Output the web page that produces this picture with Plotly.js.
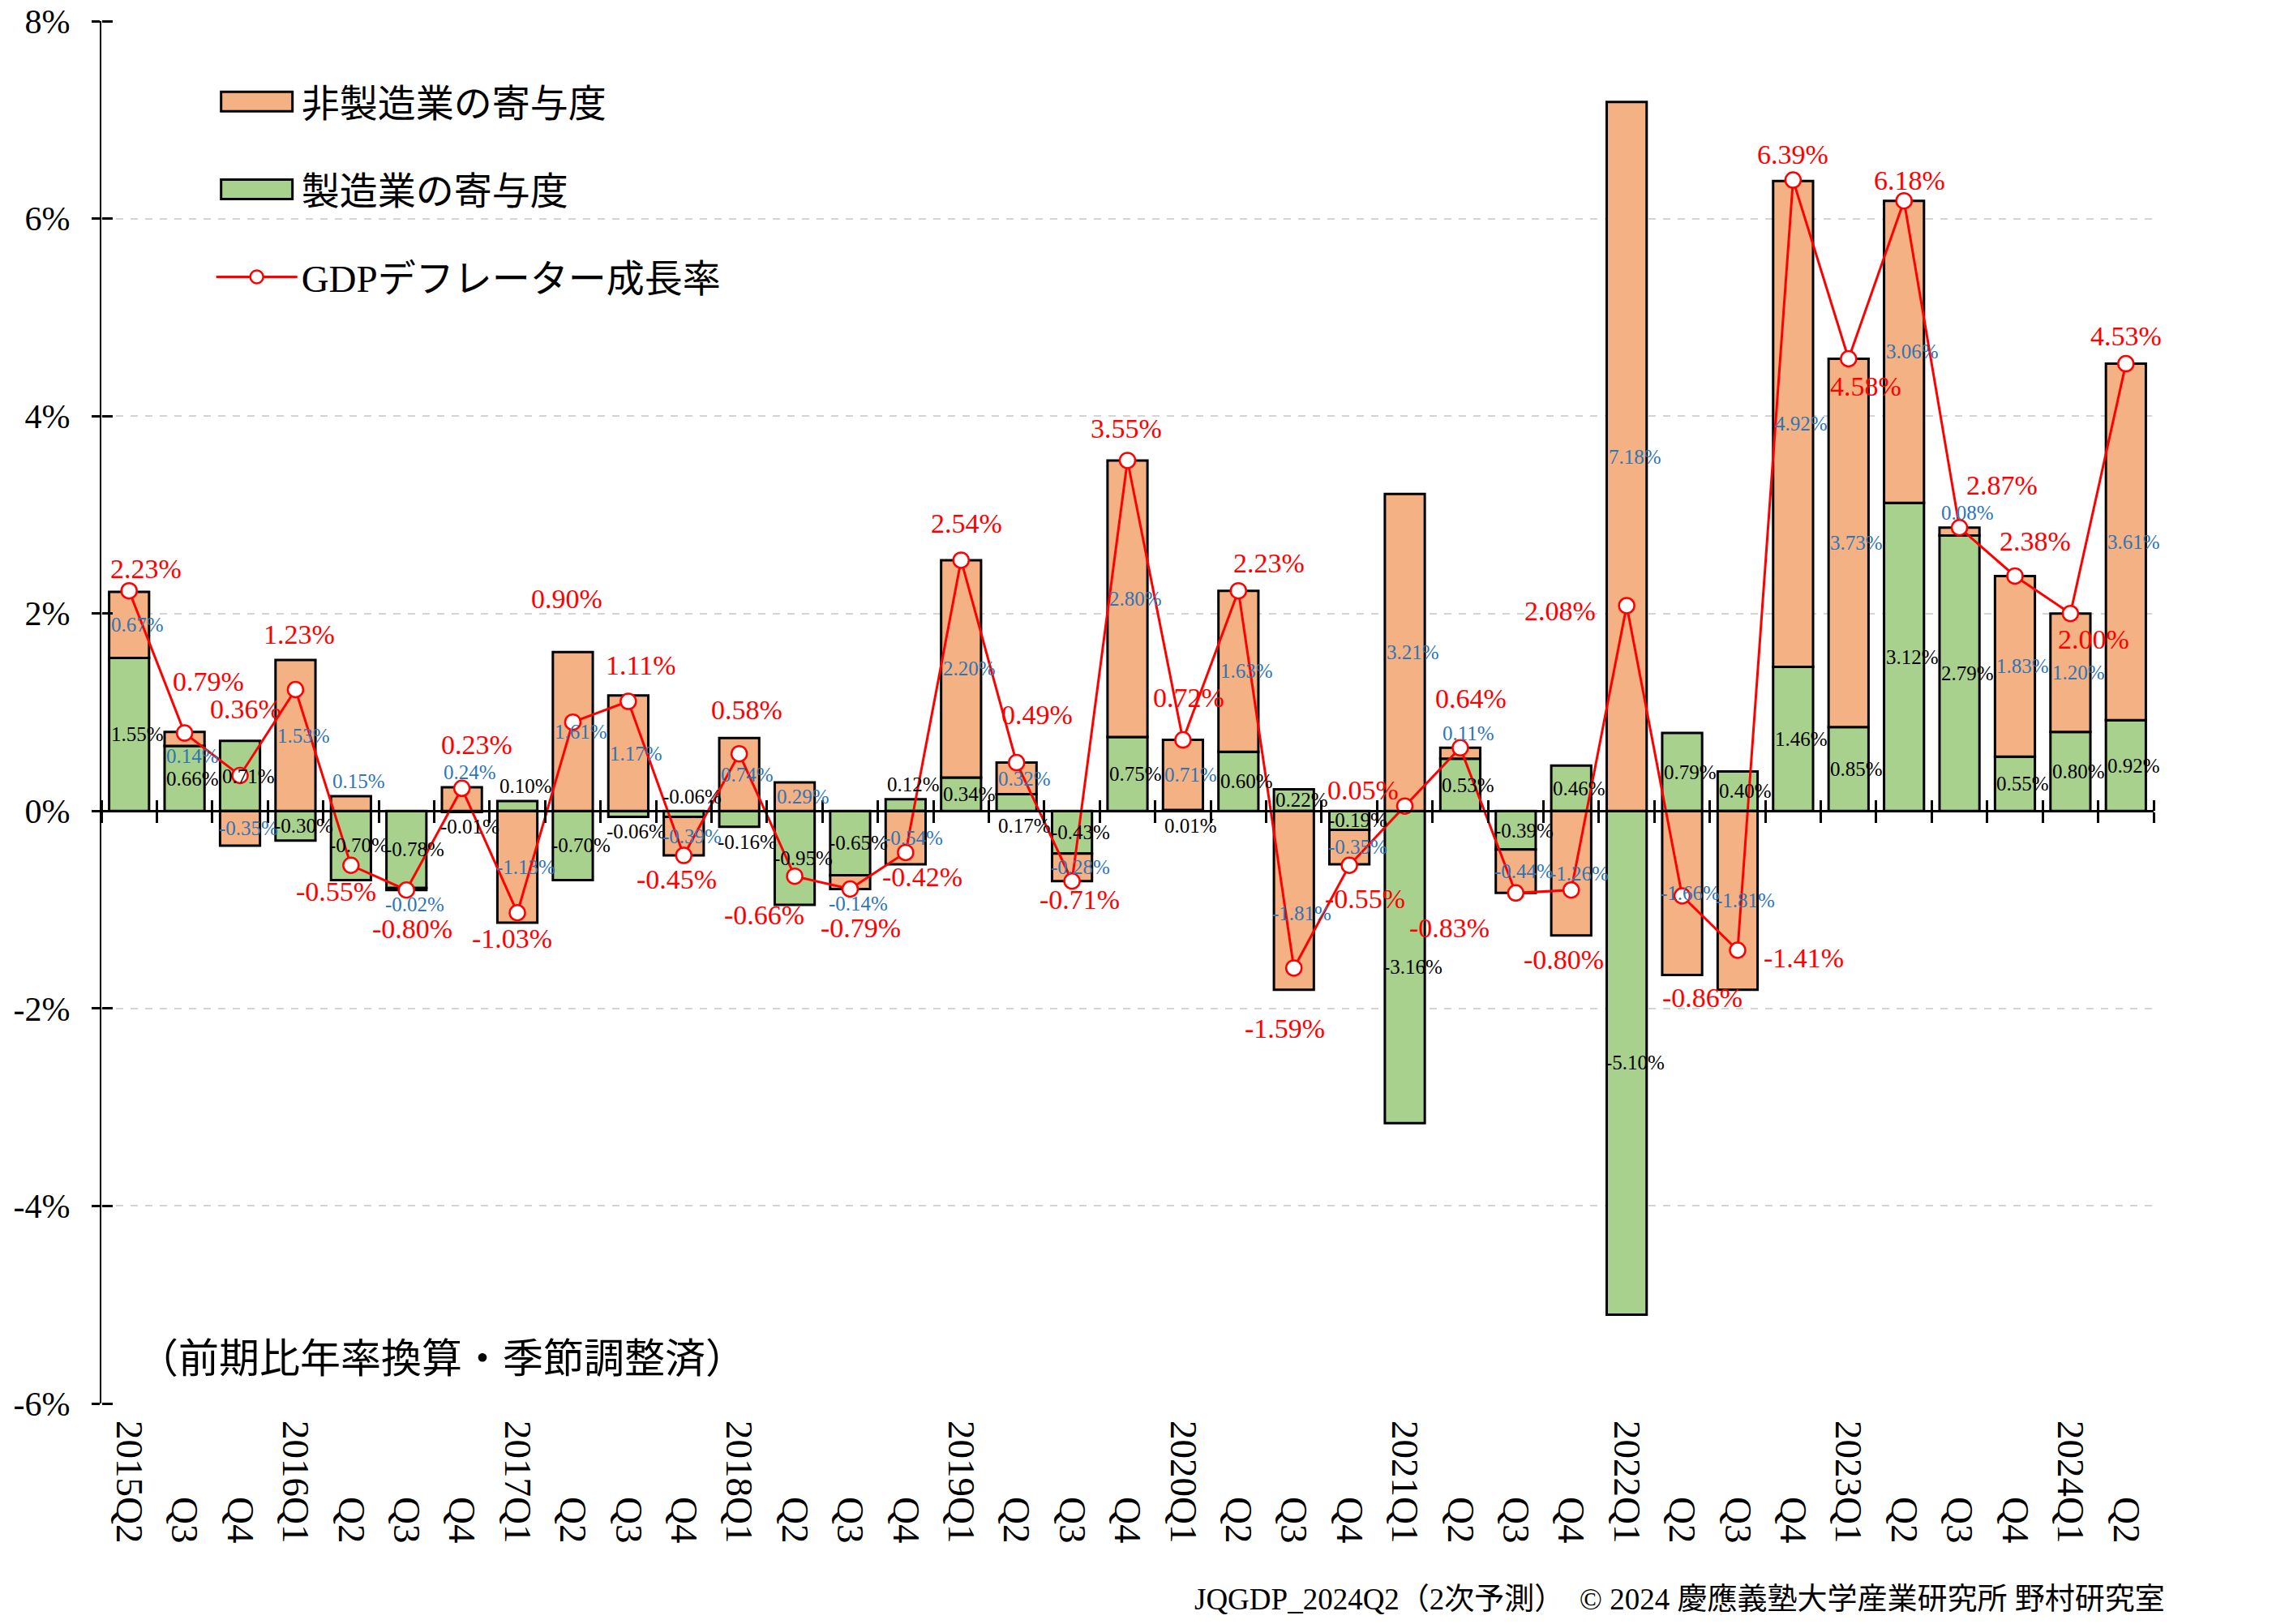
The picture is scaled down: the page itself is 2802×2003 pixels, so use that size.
<!DOCTYPE html>
<html><head><meta charset="utf-8">
<script src="https://cdn.plot.ly/plotly-3.0.1.min.js"></script>
<style>html,body{margin:0;padding:0;background:#fff}#chart{width:2802px;height:2003px}</style>
</head><body><div id="chart"></div>
<script>
// ---- data ----
const periods = ["2015Q2","2015Q3","2015Q4","2016Q1","2016Q2","2016Q3","2016Q4","2017Q1","2017Q2","2017Q3","2017Q4",
  "2018Q1","2018Q2","2018Q3","2018Q4","2019Q1","2019Q2","2019Q3","2019Q4","2020Q1","2020Q2","2020Q3","2020Q4",
  "2021Q1","2021Q2","2021Q3","2021Q4","2022Q1","2022Q2","2022Q3","2022Q4","2023Q1","2023Q2","2023Q3","2023Q4",
  "2024Q1","2024Q2"];
const tickLabels = ["2015Q2","Q3","Q4","2016Q1","Q2","Q3","Q4","2017Q1","Q2","Q3","Q4",
  "2018Q1","Q2","Q3","Q4","2019Q1","Q2","Q3","Q4","2020Q1","Q2","Q3","Q4",
  "2021Q1","Q2","Q3","Q4","2022Q1","Q2","Q3","Q4","2023Q1","Q2","Q3","Q4","2024Q1","Q2"];
const manufacturing = [1.55,0.66,0.71,-0.30,-0.70,-0.78,-0.01,0.10,-0.70,-0.06,-0.06,
  -0.16,-0.95,-0.65,0.12,0.34,0.17,-0.43,0.75,0.01,0.60,0.22,-0.19,
  -3.16,0.53,-0.39,0.46,-5.10,0.79,0.40,1.46,0.85,3.12,2.79,0.55,0.80,0.92];
const nonManufacturing = [0.67,0.14,-0.35,1.53,0.15,-0.02,0.24,-1.13,1.61,1.17,-0.39,
  0.74,0.29,-0.14,-0.54,2.20,0.32,-0.28,2.80,0.71,1.63,-1.81,-0.35,
  3.21,0.11,-0.44,-1.26,7.18,-1.66,-1.81,4.92,3.73,3.06,0.08,1.83,1.20,3.61];
const gdpDeflator = [2.23,0.79,0.36,1.23,-0.55,-0.80,0.23,-1.03,0.90,1.11,-0.45,
  0.58,-0.66,-0.79,-0.42,2.54,0.49,-0.71,3.55,0.72,2.23,-1.59,-0.55,
  0.05,0.64,-0.83,-0.80,2.08,-0.86,-1.41,6.39,4.58,6.18,2.87,2.38,2.00,4.53];
const yTickVals = [-6,-4,-2,0,2,4,6,8];
const yTickText = ["-6%","-4%","-2%","0%","2%","4%","6%","8%"];
const seriesNames = ["製造業の寄与度","非製造業の寄与度","GDPデフレーター成長率"];

// ---- label placement (pixel offsets, kept apart from the data) ----
const gdpLabelShift = [[21,27],[29,64],[7,82],[5,68],[-18,-32],[7,-48],[18,54],[-7,-32],[-7,152],[16,45],[-9,-29],
  [9,54],[-38,-48],[13,-48],[21,-30],[7,45],[25,59],[9,-23],[-2,39],[7,52],[38,34],[-11,-75],[19,-41],
  [-52,20],[13,61],[-82,-43],[-9,-86],[-82,-7],[25,-125],[82,-9],[0,32],[21,-34],[7,25],[52,52],[25,43],[29,-32],[0,34]];
const nonLabelNudge = {"2015Q3": -48, "2020Q3": -16};

const FONT = "'Liberation Serif', 'Noto Sans CJK JP', serif";
const CJK = "'Noto Sans CJK JP', 'Liberation Serif', sans-serif";
const yMin = -6, yMax = 8;
const sgn = v => (v > 0 ? 1 : v < 0 ? -1 : 0);
const fmt = v => v.toFixed(2) + '%';

const data = [
  {type:'bar', name:seriesNames[0], x:periods, y:manufacturing, legendrank:2, legendgroup:'m',
   marker:{color:'#A9D18E', line:{color:'#000', width:3}}, hoverinfo:'skip'},
  {type:'bar', name:seriesNames[1], x:periods, y:nonManufacturing, legendrank:1, legendgroup:'n',
   marker:{color:'#F4B183', line:{color:'#000', width:3}}, hoverinfo:'skip'},
  {type:'scatter', mode:'lines+markers', name:seriesNames[2], x:periods, y:gdpDeflator, legendrank:3, legendgroup:'g',
   line:{color:'#FF0000', width:3}, marker:{symbol:'circle', size:19, color:'#FFFFFF', line:{color:'#FF0000', width:2.5}},
   cliponaxis:false, hoverinfo:'skip'},
  // carriers for the crossing tick-mark axes
  {type:'scatter', x:[], y:[], xaxis:'x2', yaxis:'y', showlegend:false, hoverinfo:'skip'},
  {type:'scatter', x:[], y:[], xaxis:'x3', yaxis:'y', showlegend:false, hoverinfo:'skip'},
  {type:'scatter', x:[], y:[], xaxis:'x', yaxis:'y2', showlegend:false, hoverinfo:'skip'}
];

const annotations = [];
periods.forEach((p, i) => {
  const m = manufacturing[i], n = nonManufacturing[i];
  let ym;
  if (Math.abs(m) < 0.18) ym = (sgn(n) === sgn(m)) ? -sgn(m) * 0.15 : m + sgn(m) * 0.15;
  else ym = m / 2;
  annotations.push({x:p, y:ym, xref:'x', yref:'y', text:fmt(m), showarrow:false, xshift:10,
    font:{family:FONT, size:25, color:'#000000'}});
  const base = (sgn(n) === sgn(m)) ? m : 0;
  let yn;
  if (Math.abs(n) < 0.25) yn = base + n + sgn(n) * 0.15;
  else yn = base + n / 2;
  annotations.push({x:p, y:yn, xref:'x', yref:'y', text:fmt(n), showarrow:false, xshift:10,
    yshift:(nonLabelNudge[p] || 0), font:{family:FONT, size:25, color:'#2E75B6'}});
  annotations.push({x:p, y:gdpDeflator[i], xref:'x', yref:'y', text:fmt(gdpDeflator[i]), showarrow:false,
    xshift:gdpLabelShift[i][0], yshift:gdpLabelShift[i][1],
    font:{family:FONT, size:34, color:'#FF0000'}});
});
annotations.push({xref:'paper', yref:'paper', x:0.017, y:0.0352, xanchor:'left', yanchor:'middle', showarrow:false,
  text:'（前期比年率換算・季節調整済）', font:{family:CJK, size:50, color:'#000'}});
annotations.push({xref:'paper', yref:'paper', x:1.0063, y:-0.1419, xanchor:'right', yanchor:'middle', showarrow:false,
  text:'JQGDP_2024Q2（2次予測）　© 2024 慶應義塾大学産業研究所 野村研究室', font:{family:FONT, size:37, color:'#000'}});

const boundaries = periods.map((_, i) => i - 0.5).concat([periods.length - 0.5]);
const xRange = [-0.5, periods.length - 0.5];
const zeroPos = (0 - yMin) / (yMax - yMin);
const padLabel = s => (s.length < 6 ? '\u00A0'.repeat(8) + s : s);

const tickAxis = (side) => ({overlaying:'x', anchor:'free', position:zeroPos, side:side, type:'linear',
  range:xRange, tickmode:'array', tickvals:boundaries, ticks:'outside', ticklen:13, tickwidth:3, tickcolor:'#000',
  showticklabels:false, showgrid:false, zeroline:false, showline:side === 'bottom', linecolor:'#000', linewidth:3,
  fixedrange:true});

const layout = {
  width:2802, height:2003,
  margin:{l:125, r:146, t:26, b:272, pad:0},
  paper_bgcolor:'#FFFFFF', plot_bgcolor:'#FFFFFF',
  barmode:'relative', bargap:0.28,
  font:{family:FONT, color:'#000'},
  showlegend:true,
  legend:{x:0.054, y:0.9635, xanchor:'left', yanchor:'top', traceorder:'grouped', tracegroupgap:44,
    itemwidth:100, bgcolor:'rgba(0,0,0,0)', font:{family:FONT, size:47, color:'#000'}},
  xaxis:{type:'category', range:xRange, tickmode:'array', tickvals:periods, ticktext:tickLabels.map(padLabel),
    tickangle:90, ticks:'', showgrid:false, showline:false, zeroline:false, ticklabelstandoff:20,
    tickfont:{family:FONT, size:47, color:'#000'}, fixedrange:true},
  xaxis2:tickAxis('bottom'),
  xaxis3:tickAxis('top'),
  yaxis:{range:[yMin, yMax], tickmode:'array', tickvals:yTickVals, ticktext:yTickText, ticks:'outside',
    ticklen:10, tickwidth:3, tickcolor:'#000', showline:true, linecolor:'#000', linewidth:2,
    showgrid:true, gridcolor:'#D4D4D4', gridwidth:2, griddash:'dash', zeroline:false, ticklabelstandoff:18,
    tickfont:{family:FONT, size:42, color:'#000'}, fixedrange:true},
  yaxis2:{overlaying:'y', anchor:'free', position:0, side:'right', range:[yMin, yMax], tickmode:'array',
    tickvals:yTickVals, ticks:'outside', ticklen:13, tickwidth:3, tickcolor:'#000', showticklabels:false,
    showgrid:false, zeroline:false, showline:false, fixedrange:true},
  annotations:annotations
};

function widenLegendSwatches(gd) {
  gd.querySelectorAll('.legend g.traces').forEach(g => {
    const d = g.__data__;
    const tr = d && d[0] && d[0].trace;
    if (tr && tr.type === 'bar') {
      g.querySelectorAll('.legendpoints path').forEach(p => p.setAttribute('d', 'M44,12H-44V-12H44Z'));
    }
  });
}
const gdEl = document.getElementById('chart');
Plotly.newPlot(gdEl, data, layout, {displayModeBar:false, staticPlot:true}).then(gd => {
  widenLegendSwatches(gd);
  gd.on('plotly_afterplot', () => widenLegendSwatches(gd));
  setTimeout(() => widenLegendSwatches(gd), 30);
});
</script></body></html>
